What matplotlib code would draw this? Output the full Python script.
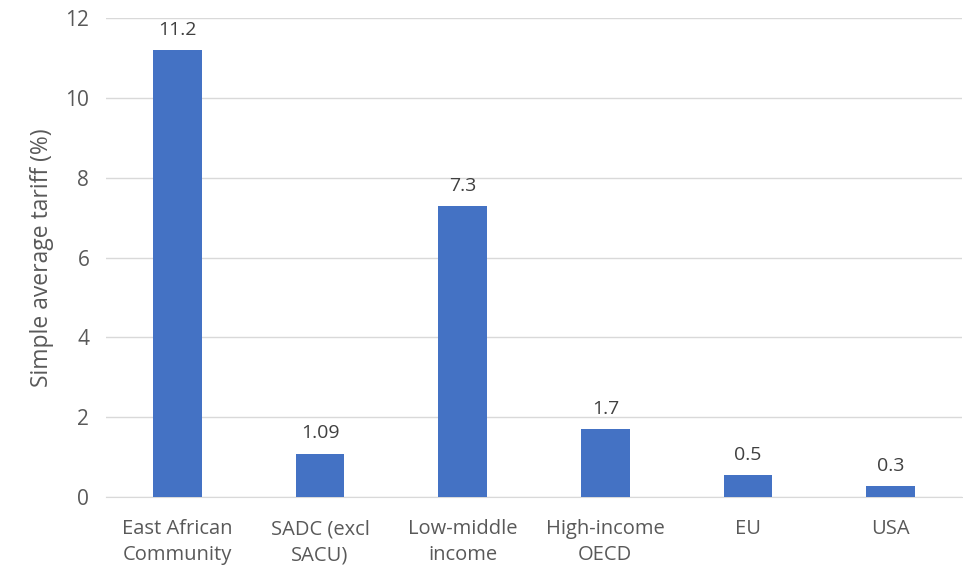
import matplotlib.pyplot as plt

# Data
categories = ['East African\nCommunity', 'SADC (excl\nSACU)', 'Low-middle\nincome',
              'High-income\nOECD', 'EU', 'USA']
tariffs = [11.2, 1.09, 7.3, 1.7, 0.55, 0.27]
value_labels = ['11.2', '1.09', '7.3', '1.7', '0.5', '0.3']

plt.rcParams['font.family'] = ['Open Sans', 'DejaVu Sans']
grey = '#595959'

fig = plt.figure(figsize=(9.63, 5.70), dpi=100)
ax = fig.add_axes([0.110, 0.128, 0.889, 0.840])

x = range(len(categories))
bars = ax.bar(x, tariffs, width=0.34, color='#4472C4', zorder=3)

# Value labels above bars
for xi, val, lab in zip(x, tariffs, value_labels):
    ax.annotate(lab, (xi, val), xytext=(0, 8), textcoords='offset points',
                ha='center', va='bottom', fontsize=14, color='#404040')

ax.set_xlim(-0.5, len(categories) - 0.5)
ax.set_ylim(0, 12)
ax.set_yticks(range(0, 13, 2))
ax.set_xticks(list(x))
ax.set_xticklabels(categories, fontsize=14.5, color=grey, linespacing=1.4)
ax.tick_params(axis='y', labelsize=15, labelcolor=grey, length=0, pad=12)
ax.tick_params(axis='x', length=0, pad=16)
ax.set_ylabel('Simple average tariff (%)', fontsize=16.5, color=grey, labelpad=8)

ax.grid(axis='y', color='#D9D9D9', linewidth=1, zorder=0)
for s in ['top', 'right', 'left']:
    ax.spines[s].set_visible(False)
ax.spines['bottom'].set_color('#D9D9D9')

fig.savefig('out.png', dpi=100)
